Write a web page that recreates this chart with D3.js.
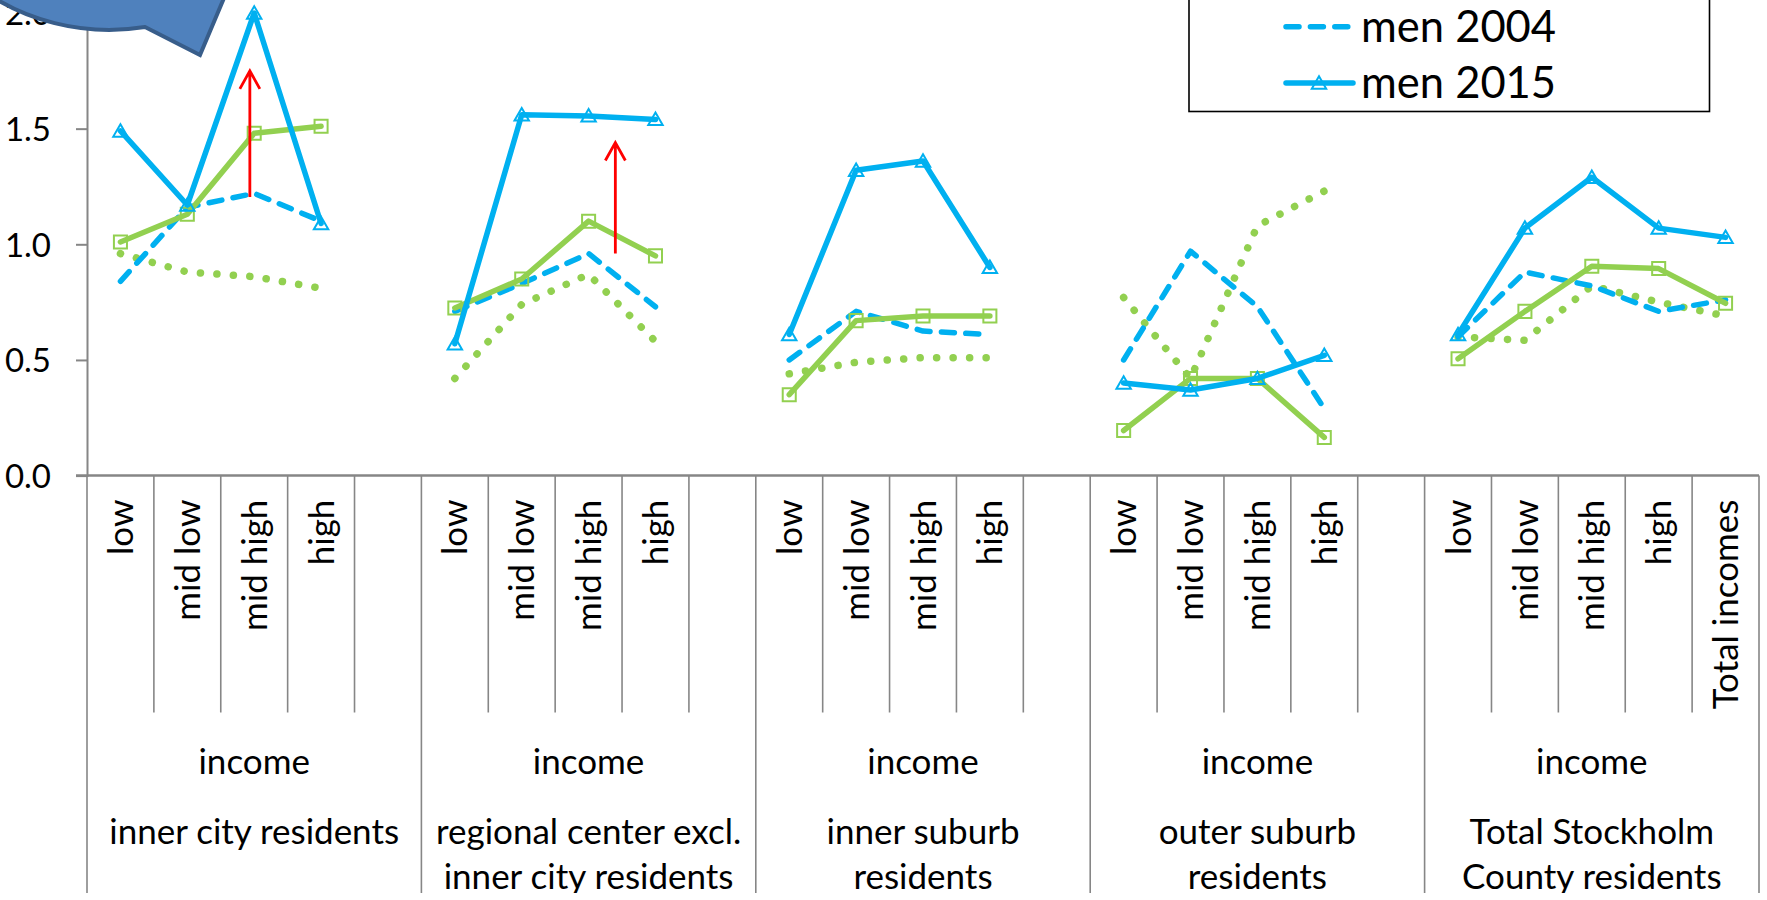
<!DOCTYPE html>
<html>
<head>
<meta charset="utf-8">
<style>
  html, body { margin: 0; padding: 0; background: #fff; }
  svg { display: block; }
  text { font-family: Lato, "Open Sans", sans-serif; fill: #000; }
</style>
<script src="https://cdnjs.cloudflare.com/ajax/libs/d3/7.8.5/d3.min.js"></script>
</head>
<body>
<svg id="chart" width="1767" height="900"></svg>
<script>
// Commuting ratio by residence area and income band
const areaLines = [
  ["inner city residents"],
  ["regional center excl.", "inner city residents"],
  ["inner suburb", "residents"],
  ["outer suburb", "residents"],
  ["Total Stockholm", "County residents"]
];
const incomeBands = ["low", "mid low", "mid high", "high", ""];
const totalBands = ["low", "mid low", "mid high", "high", "Total incomes"];
const yTicks = [0, 0.5, 1.0, 1.5, 2.0];

const women2004 = [0.96, 0.88, 0.86, 0.81, null, 0.42, 0.74, 0.87, 0.58, null, 0.44, 0.49, 0.51, 0.51, null, 0.77, 0.42, 1.08, 1.23, null, 0.60, 0.585, 0.82, 0.75, 0.69];
const women2015 = [1.01, 1.13, 1.48, 1.51, null, 0.725, 0.85, 1.10, 0.95, null, 0.35, 0.67, 0.69, 0.69, null, 0.195, 0.42, 0.42, 0.165, null, 0.505, 0.71, 0.905, 0.895, 0.745];
const men2004 = [0.84, 1.16, 1.22, 1.10, null, 0.71, 0.83, 0.96, 0.73, null, 0.50, 0.71, 0.625, 0.61, null, 0.50, 0.97, 0.73, 0.29, null, 0.60, 0.88, 0.82, 0.71, 0.76];
const men2015 = [1.49, 1.17, 2.0, 1.09, null, 0.57, 1.56, 1.555, 1.54, null, 0.61, 1.32, 1.36, 0.90, null, 0.40, 0.37, 0.42, 0.52, null, 0.61, 1.07, 1.29, 1.07, 1.03];

// Red arrows: position in category units, start and end value
const arrows = [
  { at: 2.435, from: 1.205, to: 1.75 },
  { at: 7.9, from: 0.96, to: 1.44 }
];

const BLUE = "#00B0F0", GREEN = "#92D050", AXIS = "#868686";
const left = 87, right = 1759, zeroY = 475.6, topY = 13;
const tickEnd = 712.5, groupEnd = 893;
const LABEL_SIZE = 35;

const svg = d3.select("#chart");
const indices = d3.range(25);
const x = d3.scaleBand().domain(indices).range([left, right]).paddingInner(0).paddingOuter(0);
const y = d3.scaleLinear().domain([0, 2]).range([zeroY, topY]);
const bandAt = d3.scaleLinear().domain([0, 25]).range([left, right]);

const clip = svg.append("defs").append("clipPath").attr("id", "page");
clip.append("rect").attr("x", 0).attr("y", -5).attr("width", 1767).attr("height", groupEnd + 5);

// Category separators
const sep = svg.append("g").attr("stroke", AXIS);
sep.selectAll("line").data(d3.range(26)).join("line")
  .attr("x1", i => bandAt(i)).attr("x2", i => bandAt(i))
  .attr("y1", zeroY)
  .attr("y2", i => (i % 5 === 0 ? groupEnd : tickEnd))
  .attr("stroke-width", 1.6);

// Value axis
const yAxis = svg.append("g").attr("transform", `translate(${left},0)`)
  .call(d3.axisLeft(y).tickValues(yTicks).tickFormat(d3.format(".1f")).tickSize(11).tickPadding(25));
yAxis.selectAll("path, line").attr("stroke", AXIS).attr("stroke-width", 2);
yAxis.selectAll("text").attr("font-size", 33).attr("font-family", "Lato").attr("fill", "#000").attr("dy", "0.36em");

// Baseline with income-band labels
const xAxis = svg.append("g").attr("transform", `translate(0,${zeroY})`)
  .call(d3.axisBottom(x).tickSize(0).tickFormat(i => (i < 20 ? incomeBands[i % 5] : totalBands[i % 5])));
xAxis.select("path").attr("stroke", AXIS).attr("stroke-width", 2.5).attr("d", `M${left - 11},0H${right}`);
xAxis.selectAll("text")
  .attr("font-size", LABEL_SIZE).attr("font-family", "Lato").attr("fill", "#000")
  .attr("text-anchor", "end")
  .attr("transform", "translate(0,24) rotate(-90)")
  .attr("x", 0).attr("y", 0).attr("dy", "0.36em");

// Group captions
const captions = svg.append("g").attr("clip-path", "url(#page)").attr("text-anchor", "middle").attr("font-size", LABEL_SIZE);
areaLines.forEach((lines, g) => {
  const cx = bandAt(g * 5 + 2.5);
  captions.append("text").attr("x", cx).attr("y", 774).text("income");
  lines.forEach((t, k) => captions.append("text").attr("x", cx).attr("y", 844 + k * 45).text(t));
});

// Series
const line = d3.line().defined(d => d != null)
  .x((d, i) => x(i) + x.bandwidth() / 2)
  .y(d => y(d));

const series = [
  { values: women2004, color: GREEN, width: 7.5, dash: "0.1 16.4", cap: "round" },
  { values: men2004, color: BLUE, width: 5.5, dash: "13 11.4", cap: "round" },
  { values: women2015, color: GREEN, width: 5.5, marker: "square", cap: "round" },
  { values: men2015, color: BLUE, width: 5.5, marker: "triangle", cap: "round" }
];

const plot = svg.append("g");
series.forEach(s => {
  plot.append("path").attr("d", line(s.values)).attr("fill", "none")
    .attr("stroke", s.color).attr("stroke-width", s.width)
    .attr("stroke-linecap", s.cap).attr("stroke-linejoin", "round")
    .attr("stroke-dasharray", s.dash || null);
  if (s.marker) {
    const isSquare = s.marker === "square";
    const sym = d3.symbol().type(isSquare ? d3.symbolSquare : d3.symbolTriangle)
      .size(isSquare ? 170 : 90);
    const nudge = isSquare ? 0 : 1.5;
    plot.append("g").selectAll("path")
      .data(s.values.map((v, i) => ({ v, i })).filter(d => d.v != null))
      .join("path")
      .attr("d", sym)
      .attr("transform", d => `translate(${x(d.i) + x.bandwidth() / 2},${y(d.v) + nudge})`)
      .attr("fill", "none").attr("stroke", s.color).attr("stroke-width", 2);
  }
});

// Arrows
const red = svg.append("g").attr("stroke", "#FF0000").attr("stroke-width", 2.8).attr("fill", "none");
arrows.forEach(a => {
  const ax = bandAt(a.at), y0 = y(a.from), y1 = y(a.to);
  const p = d3.path();
  p.moveTo(ax, y0); p.lineTo(ax, y1);
  p.moveTo(ax - 10, y1 + 18); p.lineTo(ax, y1); p.lineTo(ax + 10, y1 + 18);
  red.append("path").attr("d", p.toString());
});

// Legend
const legend = svg.append("g");
legend.append("rect").attr("x", 1189).attr("y", -5).attr("width", 520.5).attr("height", 116.5)
  .attr("fill", "#fff").attr("stroke", "#000").attr("stroke-width", 1.6);
const legendRows = [
  { label: "men 2004", yMid: 26.7, base: 42, x2: 1350, dash: "13 11.4" },
  { label: "men 2015", yMid: 83, base: 97.5, x2: 1353, marker: true }
];
legendRows.forEach(r => {
  legend.append("line").attr("x1", 1286).attr("x2", r.x2).attr("y1", r.yMid).attr("y2", r.yMid)
    .attr("stroke", BLUE).attr("stroke-width", 5.5).attr("stroke-linecap", "round")
    .attr("stroke-dasharray", r.dash || null);
  if (r.marker) {
    legend.append("path").attr("d", d3.symbol().type(d3.symbolTriangle).size(90))
      .attr("transform", `translate(1319,${r.yMid + 1.5})`)
      .attr("fill", "none").attr("stroke", BLUE).attr("stroke-width", 2);
  }
  legend.append("text").attr("x", 1361).attr("y", r.base).attr("font-size", 43.5).text(r.label);
});

// Speech bubble over the top corner of the axis
svg.append("path")
  .attr("d", "M145,27 L200,55 L224,-2 A200,176 0 1 0 145,27 Z")
  .attr("fill", "#4F81BD").attr("stroke", "#385D8A").attr("stroke-width", 4).attr("stroke-linejoin", "miter");
</script>
</body>
</html>
